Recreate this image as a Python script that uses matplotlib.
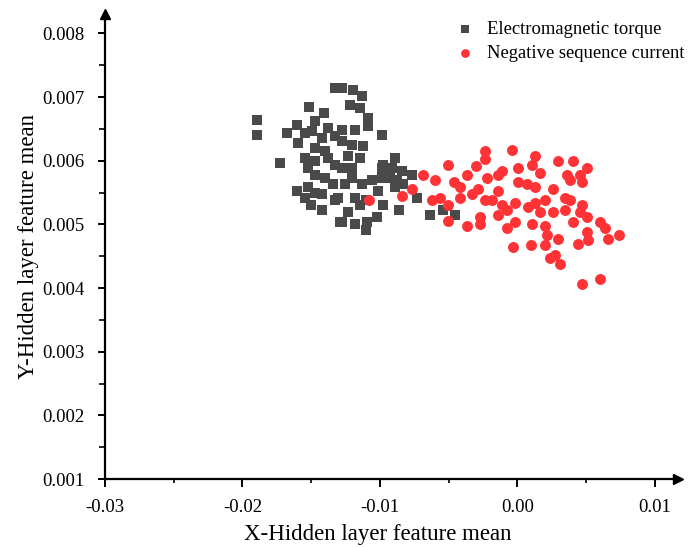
import matplotlib
matplotlib.use("Agg")
import matplotlib.pyplot as plt
from matplotlib.ticker import MultipleLocator, FormatStrFormatter

# Electromagnetic torque features (hidden-layer means)
torque_x = [-0.01324, -0.01513, -0.01404, -0.01891, -0.01891, -0.01600, -0.01469, -0.01673,
            -0.01593, -0.01542, -0.01491, -0.01375, -0.01324, -0.01418, -0.01469, -0.01396,
            -0.01542, -0.01469, -0.01375, -0.01324, -0.01724, -0.01520, -0.01469, -0.01396,
            -0.01338, -0.01600, -0.01520, -0.01469, -0.01542, -0.01418, -0.01505, -0.01425,
            -0.01324, -0.01287,
            -0.01273, -0.01193, -0.01127, -0.01215, -0.01142, -0.01084, -0.01084, -0.01178,
            -0.00982, -0.01273, -0.01273, -0.01200, -0.01120, -0.01229, -0.01273, -0.01200,
            -0.01142, -0.00887, -0.00982, -0.00909, -0.00836, -0.00764, -0.01200, -0.01251,
            -0.01127, -0.01055, -0.00982, -0.00924, -0.00873, -0.00829, -0.01011, -0.00887,
            -0.01178, -0.01302, -0.01142, -0.00975, -0.00865, -0.00727, -0.01229, -0.01273,
            -0.01178, -0.01091, -0.01018, -0.01105, -0.00633, -0.00545, -0.00451, -0.00975,
            -0.01105]
torque_y = [0.00714, 0.00684, 0.00675, 0.00664, 0.00641, 0.00656, 0.00663, 0.00644,
            0.00628, 0.00644, 0.00647, 0.00652, 0.00639, 0.00636, 0.00620, 0.00616,
            0.00605, 0.00600, 0.00605, 0.00594, 0.00597, 0.00589, 0.00578, 0.00573,
            0.00563, 0.00553, 0.00558, 0.00550, 0.00542, 0.00547, 0.00530, 0.00522,
            0.00539, 0.00503,
            0.00714, 0.00711, 0.00702, 0.00688, 0.00683, 0.00667, 0.00655, 0.00648,
            0.00641, 0.00648, 0.00631, 0.00625, 0.00623, 0.00608, 0.00589, 0.00589,
            0.00605, 0.00605, 0.00589, 0.00589, 0.00584, 0.00577, 0.00573, 0.00563,
            0.00563, 0.00570, 0.00573, 0.00573, 0.00569, 0.00563, 0.00553, 0.00558,
            0.00542, 0.00542, 0.00530, 0.00531, 0.00523, 0.00542, 0.00519, 0.00503,
            0.00500, 0.00503, 0.00511, 0.00492, 0.00514, 0.00523, 0.00514, 0.00594,
            0.00538]

# Negative sequence current features (hidden-layer means)
current_x = [-0.01076, -0.00836, -0.00764, -0.00684, -0.00596, -0.00502, -0.00465, -0.00415,
             -0.00618, -0.00560, -0.00502, -0.00502, -0.00364, -0.00415, -0.00364,
             -0.00233, -0.00036, -0.00233, -0.00305, -0.00218, -0.00138, -0.00109, 0.00007,
             0.00131, 0.00109, 0.00167, 0.00007, 0.00073, 0.00131, 0.00262, 0.00204,
             -0.00138, -0.00284, -0.00327, -0.00233, -0.00182, -0.00109, -0.00015, 0.00080,
             0.00131, -0.00138, -0.00073, 0.00167, 0.00255, -0.00269, -0.00269, -0.00073,
             -0.00015, 0.00109, 0.00204, 0.00218, 0.00298, -0.00029, 0.00095, 0.00204,
             0.00240, 0.00313,
             0.00298, 0.00407, 0.00509, 0.00364, 0.00458, 0.00473, 0.00385, 0.00349,
             0.00385, 0.00473, 0.00349, 0.00458, 0.00509, 0.00407, 0.00604, 0.00640,
             0.00735, 0.00509, 0.00516, 0.00444, 0.00655, 0.00473, 0.00604, 0.00276]
current_y = [0.00539, 0.00544, 0.00555, 0.00577, 0.00570, 0.00594, 0.00566, 0.00558,
             0.00539, 0.00542, 0.00530, 0.00506, 0.00498, 0.00542, 0.00578,
             0.00616, 0.00617, 0.00602, 0.00592, 0.00573, 0.00577, 0.00584, 0.00589,
             0.00608, 0.00594, 0.00581, 0.00566, 0.00563, 0.00558, 0.00555, 0.00539,
             0.00553, 0.00555, 0.00547, 0.00539, 0.00539, 0.00531, 0.00534, 0.00527,
             0.00534, 0.00514, 0.00523, 0.00519, 0.00519, 0.00511, 0.00500, 0.00495,
             0.00503, 0.00500, 0.00498, 0.00483, 0.00477, 0.00464, 0.00467, 0.00467,
             0.00448, 0.00438,
             0.00600, 0.00600, 0.00589, 0.00577, 0.00578, 0.00566, 0.00569, 0.00542,
             0.00538, 0.00531, 0.00523, 0.00519, 0.00511, 0.00503, 0.00503, 0.00495,
             0.00483, 0.00488, 0.00475, 0.00469, 0.00477, 0.00406, 0.00414, 0.00452]

x_ticks = [-0.03, -0.02, -0.01, 0.00, 0.01]
y_ticks = [0.001, 0.002, 0.003, 0.004, 0.005, 0.006, 0.007, 0.008]

serif = ["Liberation Serif", "DejaVu Serif"]
plt.rcParams["font.family"] = serif

fig = plt.figure(figsize=(6.95, 5.47), dpi=100)
ax = fig.add_axes([0.151, 0.124, 0.825, 0.85])

ax.scatter(torque_x, torque_y, marker="s", s=54, color="#4a4a4a", linewidths=0,
           label="Electromagnetic torque", zorder=3)
ax.scatter(current_x, current_y, marker="o", s=62, color="#ff3236", linewidths=0,
           label="Negative sequence current", zorder=4)

ax.set_xlim(-0.03, 0.0117)
ax.set_ylim(0.001, 0.0083)

for side in ("top", "right"):
    ax.spines[side].set_visible(False)
for side in ("left", "bottom"):
    ax.spines[side].set_linewidth(1.6)
    ax.spines[side].set_color("black")

# arrow heads at the ends of both axes
ax.plot(1, 0, ">", color="black", markersize=7, transform=ax.transAxes, clip_on=False)
ax.plot(0, 1, "^", color="black", markersize=7, transform=ax.transAxes, clip_on=False)

ax.set_xticks(x_ticks)
ax.set_yticks(y_ticks)
ax.xaxis.set_major_formatter(FormatStrFormatter("%.2f"))
ax.yaxis.set_major_formatter(FormatStrFormatter("%.3f"))
ax.xaxis.set_minor_locator(MultipleLocator(0.005))
ax.yaxis.set_minor_locator(MultipleLocator(0.0005))
ax.tick_params(axis="x", which="major", direction="out", length=6, width=1.4,
               labelsize=13.5, pad=8)
ax.tick_params(axis="x", which="minor", direction="out", length=3, width=1.2)
ax.tick_params(axis="y", which="major", direction="out", length=5, width=1.4,
               labelsize=13.5, pad=10)
ax.tick_params(axis="y", which="minor", direction="out", length=4, width=1.2)

ax.set_xlabel("X-Hidden layer feature mean", fontsize=16.5)
ax.set_ylabel("Y-Hidden layer feature mean", fontsize=16.5)
ax.xaxis.set_label_coords(0.475, -0.097)
ax.yaxis.set_label_coords(-0.115, 0.5)

ax.legend(loc="upper left", bbox_to_anchor=(0.653, 0.962), bbox_transform=fig.transFigure,
          borderaxespad=0, borderpad=0, frameon=False,
          fontsize=13.4, handletextpad=0.6, labelspacing=0.4, markerscale=0.8,
          handlelength=1.2)

fig.savefig("out.png", dpi=100)
